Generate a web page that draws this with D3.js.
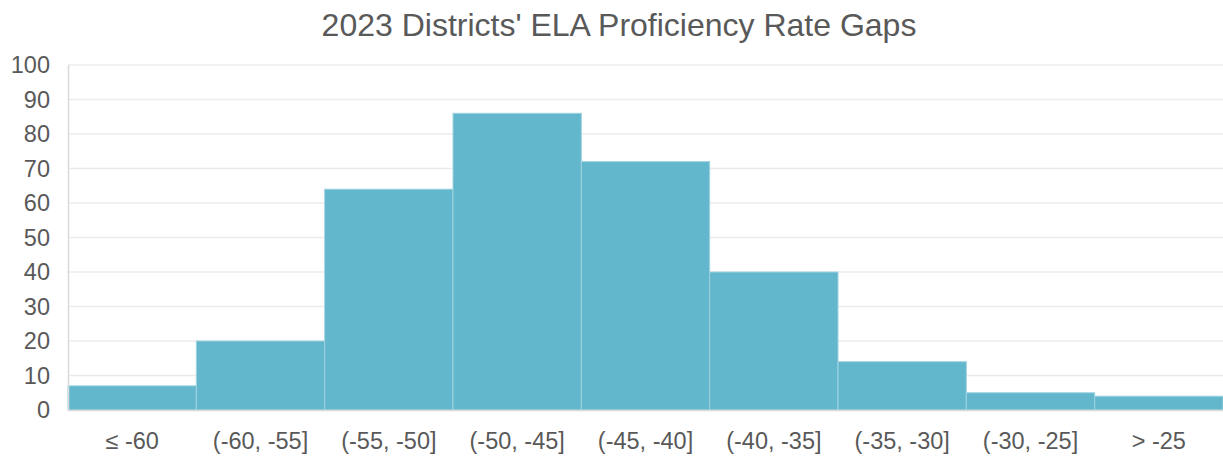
<!DOCTYPE html>
<html>
<head>
<meta charset="utf-8">
<script src="https://cdn.jsdelivr.net/npm/d3@7"></script>
<style>
  body { margin: 0; background: #fff; }
  svg { display: block; font-family: "Liberation Sans", Arial, sans-serif; }
  .tick text { fill: #595959; font-size: 23.5px; }
</style>
</head>
<body>
<svg id="chart"></svg>
<script>
var categories = ["\u2264 -60", "(-60, -55]", "(-55, -50]", "(-50, -45]", "(-45, -40]",
                  "(-40, -35]", "(-35, -30]", "(-30, -25]", "> -25"];
var counts = [7, 20, 64, 86, 72, 40, 14, 5, 4];
var yTicks = [0, 10, 20, 30, 40, 50, 60, 70, 80, 90, 100];

var width = 1223, height = 460;
var margin = {top: 65, right: 0, bottom: 50, left: 68};

var svg = d3.select("#chart")
    .attr("width", width)
    .attr("height", height);

var x = d3.scaleBand()
    .domain(categories)
    .range([margin.left, width - margin.right])
    .padding(0);

var y = d3.scaleLinear()
    .domain([0, 100])
    .range([height - margin.bottom, margin.top]);

// gridlines
svg.append("g")
    .selectAll("line")
    .data(yTicks.slice(1))
    .enter().append("line")
    .attr("x1", margin.left)
    .attr("x2", width - margin.right)
    .attr("y1", function(d) { return y(d); })
    .attr("y2", function(d) { return y(d); })
    .attr("stroke", "#ebebeb")
    .attr("stroke-width", 1.5);

// bars
svg.append("g")
    .selectAll("rect")
    .data(counts)
    .enter().append("rect")
    .attr("x", function(d, i) { return x(categories[i]); })
    .attr("y", function(d) { return y(d); })
    .attr("width", x.bandwidth())
    .attr("height", function(d) { return y(0) - y(d); })
    .attr("fill", "#62b7cc")
    .attr("stroke", "#9fd3e0")
    .attr("stroke-width", 1);

// y axis
var yAxis = svg.append("g")
    .attr("transform", "translate(" + margin.left + ",0)")
    .call(d3.axisLeft(y).tickValues(yTicks).tickSize(0).tickPadding(18));
yAxis.select(".domain").attr("stroke", "#d9d9d9").attr("stroke-width", 1.5);

// x axis
var xAxis = svg.append("g")
    .attr("transform", "translate(0," + y(0) + ")")
    .call(d3.axisBottom(x).tickSize(0).tickPadding(22));
xAxis.select(".domain").attr("stroke", "#d9d9d9").attr("stroke-width", 1.5);

// title
svg.append("text")
    .attr("x", 619)
    .attr("y", 36)
    .attr("text-anchor", "middle")
    .attr("fill", "#595959")
    .style("font-size", "32px")
    .text("2023 Districts' ELA Proficiency Rate Gaps");
</script>
</body>
</html>
